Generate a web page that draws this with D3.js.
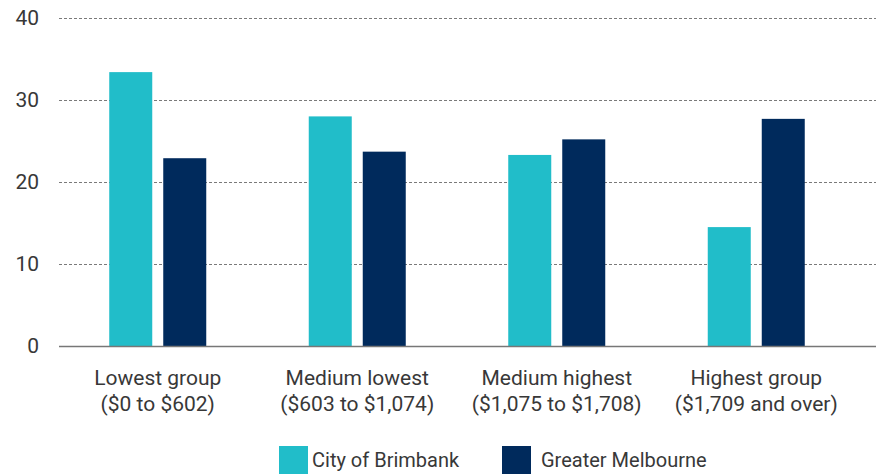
<!DOCTYPE html>
<html>
<head>
<meta charset="utf-8">
<script src="https://cdn.jsdelivr.net/npm/d3@7"></script>
<style>
  body { margin: 0; background: #fff; }
  svg text { font-family: "Roboto", sans-serif; fill: #383838; }
</style>
</head>
<body>
<script>
// Width and height
var w = 876;
var h = 474;

var categories = ["Lowest group", "Medium lowest", "Medium highest", "Highest group"];
var ranges = ["($0 to $602)", "($603 to $1,074)", "($1,075 to $1,708)", "($1,709 and over)"];
var seriesNames = ["City of Brimbank", "Greater Melbourne"];
var brimbank = [33.4, 28.0, 23.3, 14.5];
var melbourne = [22.9, 23.7, 25.2, 27.7];
var yTicks = [0, 10, 20, 30, 40];
var colors = ["#21bdc9", "#002a5c"];

var svg = d3.select("body")
    .append("svg")
    .attr("width", w)
    .attr("height", h);

var xScale = d3.scaleBand()
    .domain(categories)
    .range([58, 856]);

var yScale = d3.scaleLinear()
    .domain([0, 40])
    .range([346, 18]);

var barW = 43, gap = 11;

// gridlines
svg.selectAll("line.grid")
    .data(yTicks.filter(function(d) { return d > 0; }))
    .enter()
    .append("line")
    .attr("class", "grid")
    .attr("x1", 59)
    .attr("x2", w)
    .attr("y1", function(d) { return yScale(d) + 0.5; })
    .attr("y2", function(d) { return yScale(d) + 0.5; })
    .attr("stroke", "#7a7a7a")
    .attr("stroke-width", 1)
    .attr("stroke-dasharray", "3,2");

// y tick labels
svg.selectAll("text.ytick")
    .data(yTicks)
    .enter()
    .append("text")
    .attr("class", "ytick")
    .attr("x", 39)
    .attr("y", function(d) { return yScale(d); })
    .attr("dy", "0.35em")
    .attr("text-anchor", "end")
    .attr("font-size", "21px")
    .text(function(d) { return d; });

// bars
var data = categories.map(function(c, i) {
    return [brimbank[i], melbourne[i]];
});

var groups = svg.selectAll("g.group")
    .data(data)
    .enter()
    .append("g")
    .attr("class", "group")
    .attr("transform", function(d, i) {
        return "translate(" + (xScale(categories[i]) + xScale.bandwidth() / 2) + ",0)";
    });

groups.selectAll("rect")
    .data(function(d) { return d; })
    .enter()
    .append("rect")
    .attr("x", function(d, j) { return j === 0 ? -gap / 2 - barW : gap / 2; })
    .attr("y", function(d) { return yScale(d); })
    .attr("width", barW)
    .attr("height", function(d) { return yScale(0) - yScale(d); })
    .attr("fill", function(d, j) { return colors[j]; });

// baseline
svg.append("line")
    .attr("x1", 59)
    .attr("x2", w)
    .attr("y1", 346.5)
    .attr("y2", 346.5)
    .attr("stroke", "#777")
    .attr("stroke-width", 1.5);

// category labels
groups.append("text")
    .attr("y", 385)
    .attr("text-anchor", "middle")
    .attr("font-size", "21px")
    .text(function(d, i) { return categories[i]; });

groups.append("text")
    .attr("y", 411)
    .attr("text-anchor", "middle")
    .attr("font-size", "21px")
    .text(function(d, i) { return ranges[i]; });

// legend
var legendX = [279, 502];
var legendTextX = [33, 39];
var legend = svg.selectAll("g.legend")
    .data(seriesNames)
    .enter()
    .append("g")
    .attr("class", "legend")
    .attr("transform", function(d, i) { return "translate(" + legendX[i] + ",446)"; });

legend.append("rect")
    .attr("width", 29)
    .attr("height", 28)
    .attr("fill", function(d, i) { return colors[i]; });

legend.append("text")
    .attr("x", function(d, i) { return legendTextX[i]; })
    .attr("y", 21)
    .attr("font-size", "20px")
    .text(function(d) { return d; });
</script>
</body>
</html>
